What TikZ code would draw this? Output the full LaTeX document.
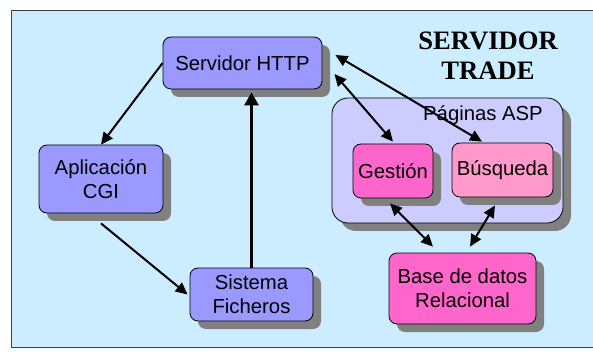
\documentclass[tikz,border=0pt]{standalone}
\usepackage{fontspec}
\setmainfont{Liberation Sans}
\newfontfamily\titlefont{Liberation Serif}
\usetikzlibrary{shadows,arrows.meta,calc}
\definecolor{bgblue}{HTML}{CCECFF}
\definecolor{boxblue}{HTML}{9999FF}
\definecolor{aspblue}{HTML}{CCCCFF}
\definecolor{hotpink}{HTML}{FF66CC}
\definecolor{softpink}{HTML}{FF99CC}
\definecolor{shade}{HTML}{808080}
\tikzset{
  shadowed/.style={drop shadow={shadow xshift=8pt,shadow yshift=-8pt,fill=shade,opacity=1}},
  box/.style={draw=black,line width=0.8pt,rounded corners=8pt,shadowed,
    align=center,inner sep=0pt,font=\fontsize{20.3}{24}\selectfont},
  link/.style={line width=2pt,-{Triangle[length=12pt,width=11pt]}},
  duplex/.style={line width=2pt,{Triangle[length=12pt,width=11pt]}-{Triangle[length=12pt,width=11pt]}}
}
\begin{document}
\begin{tikzpicture}[x=1pt,y=-1pt]
\useasboundingbox (0,0) rectangle (593,352);
% outer frame of the server
\fill[shade] (19,18) rectangle (603,355);
\draw[fill=bgblue,draw=black!75,line width=0.8pt] (11,10) rectangle (600,347);
\node[font=\titlefont\bfseries\fontsize{26.6}{30}\selectfont,align=center] (title) at (488,56) {SERVIDOR\\TRADE};
% ASP container
\node[box,fill=aspblue,rounded corners=16pt,minimum width=231pt,minimum height=125pt] (asp) at (447.5,160.5) {};
\node[font=\fontsize{20.3}{24}\selectfont] (asplabel) at (483,115) {Páginas ASP};
% boxes
\node[box,fill=boxblue,minimum width=159pt,minimum height=52pt] (serv) at (242.5,63) {Servidor HTTP};
\node[box,fill=boxblue,minimum width=124pt,minimum height=68pt] (apl) at (101,179) {Aplicación\\CGI};
\node[box,fill=boxblue,minimum width=123pt,minimum height=53pt] (sis) at (251.5,294.5) {Sistema\\Ficheros};
\node[box,fill=hotpink,minimum width=80pt,minimum height=54pt] (gest) at (393,171) {Gestión};
\node[box,fill=softpink,minimum width=101pt,minimum height=54pt] (bus) at (502.5,170) {Búsqueda};
\node[box,fill=hotpink,minimum width=147pt,minimum height=71pt] (base) at (462.5,288.5) {Base de datos\\Relacional};
% connectors
\draw[link] (serv.west) -- (apl.north);
\draw[link] ([yshift=-10pt]apl.south) -- ([xshift=-2pt]sis.west);
\draw[line width=3pt,-{Triangle[length=13pt,width=14pt]},shorten >=3pt] (sis.north) -- (sis.north |- serv.south);
\draw[duplex] ([xshift=13pt,yshift=8pt]serv.east) -- ([xshift=-20.5pt,yshift=1pt]bus.north);
\draw[duplex] ([xshift=12pt,yshift=-11pt]serv.east) -- ([yshift=2pt]gest.north);
\draw[duplex] ([xshift=-3pt,yshift=-5pt]gest.south) -- ([xshift=-29.5pt,yshift=6pt]base.north);
\draw[duplex] ([xshift=-7.5pt,yshift=-8pt]bus.south) -- ([xshift=7.5pt,yshift=6pt]base.north);
\end{tikzpicture}
\end{document}
